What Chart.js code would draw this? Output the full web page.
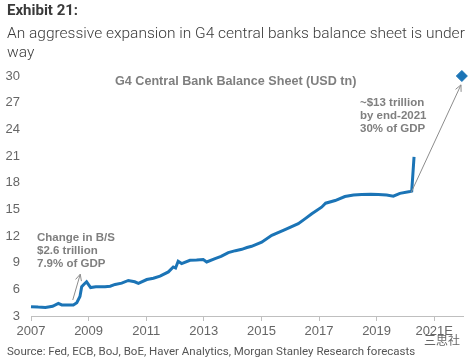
<!DOCTYPE html>
<html>
<head>
<meta charset="utf-8">
<script src="https://cdn.jsdelivr.net/npm/chart.js@4.4.1/dist/chart.umd.min.js"></script>
<style>
  body { margin: 0; background: #fff; }
  #wrap { position: relative; width: 472px; height: 359px; overflow: hidden; }
  #box { position: absolute; left: 0; top: 0; width: 472px; height: 359px; }
  .hdr { position: absolute; left: 7px; font-family: Roboto, sans-serif; color: #3a3a3a; white-space: nowrap; }
  #exhibit { top: 1px; font-size: 15px; font-weight: 700; }
  #sub { top: 24px; font-size: 15.5px; font-weight: 300; line-height: 19px; }
  #source { position: absolute; left: 7px; top: 344px; font-family: Roboto, sans-serif; font-size: 11.5px; color: #555; white-space: nowrap; }
  #mark { position: absolute; left: 424px; top: 331px; font-family: "Noto Sans CJK SC", sans-serif; font-size: 12px; color: #666; }
</style>
</head>
<body>
<div id="wrap">
  <div id="box"><canvas id="bsChart"></canvas></div>
  <div class="hdr" id="exhibit">Exhibit 21:</div>
  <div class="hdr" id="sub">An aggressive expansion in G4 central banks balance sheet is under<br>way</div>
  <div id="source">Source: Fed, ECB, BoJ, BoE, Haver Analytics, Morgan Stanley Research forecasts</div>
  <div id="mark">三思社</div>
</div>
<script>
// G4 balance sheet, USD tn
const years = [2007.0, 2007.25, 2007.5, 2007.75, 2007.95, 2008.07, 2008.3, 2008.47, 2008.59, 2008.7,
  2008.76, 2008.85, 2008.93, 2009.07, 2009.25, 2009.57, 2009.75, 2009.92, 2010.15, 2010.38,
  2010.6, 2010.73, 2011.02, 2011.25, 2011.48, 2011.77, 2011.94, 2012.02, 2012.11, 2012.23,
  2012.52, 2012.75, 2012.98, 2013.1, 2013.39, 2013.6, 2013.85, 2014.1, 2014.32, 2014.5,
  2014.66, 2015.01, 2015.36, 2015.8, 2016.28, 2016.5, 2016.75, 2017.09, 2017.23, 2017.56,
  2017.9, 2018.2, 2018.48, 2018.8, 2019.06, 2019.35, 2019.58, 2019.81, 2020.16, 2020.22, 2020.3];
const values = [4.05, 4.0, 3.97, 4.1, 4.42, 4.25, 4.25, 4.25, 4.5, 5.2,
  6.3, 6.6, 6.85, 6.2, 6.3, 6.3, 6.35, 6.55, 6.7, 7.0,
  6.85, 6.66, 7.1, 7.25, 7.48, 7.96, 8.52, 8.4, 9.16, 8.9,
  9.27, 9.3, 9.35, 9.08, 9.46, 9.7, 10.13, 10.35, 10.5, 10.7,
  10.84, 11.3, 12.07, 12.7, 13.38, 13.9, 14.5, 15.24, 15.69, 15.99,
  16.44, 16.6, 16.66, 16.7, 16.66, 16.6, 16.48, 16.8, 17.0, 17.05, 20.9];

// end-2021 forecast
const forecastYear = [2021.96];
const forecastValue = [30];

const xTicks = [2007, 2009, 2011, 2013, 2015, 2017, 2019, 2021];
const xTickLabels = ["2007", "2009", "2011", "2013", "2015", "2017", "2019", "2021E"];

const blue = "#1b74b6";
const grey = "#7f7f7f";

Chart.defaults.font.family = "'Liberation Sans', Arial, sans-serif";

function arrow(ctx, x1, y1, x2, y2) {
  const a = Math.atan2(y2 - y1, x2 - x1);
  const h = 7;
  ctx.beginPath();
  ctx.moveTo(x1, y1);
  ctx.lineTo(x2, y2);
  ctx.moveTo(x2 - h * Math.cos(a - 0.45), y2 - h * Math.sin(a - 0.45));
  ctx.lineTo(x2, y2);
  ctx.lineTo(x2 - h * Math.cos(a + 0.45), y2 - h * Math.sin(a + 0.45));
  ctx.stroke();
}

const notes = {
  id: "notes",
  afterDatasetsDraw(chart) {
    const { ctx, scales: { x, y } } = chart;
    ctx.save();
    ctx.strokeStyle = "#8c8c8c";
    ctx.lineWidth = 1;
    arrow(ctx, x.getPixelForValue(2008.45), y.getPixelForValue(4.8), x.getPixelForValue(2008.71), y.getPixelForValue(7.7));
    arrow(ctx, x.getPixelForValue(2020.2), y.getPixelForValue(16.9), x.getPixelForValue(2021.93), y.getPixelForValue(29.0));

    ctx.fillStyle = grey;
    ctx.textBaseline = "middle";
    ctx.textAlign = "left";
    ctx.font = "bold 12.6px 'Liberation Sans', Arial, sans-serif";
    ctx.fillText("G4 Central Bank Balance Sheet (USD tn)", 115, 82);

    ctx.font = "bold 11.5px 'Liberation Sans', Arial, sans-serif";
    ["~$13 trillion", "by end-2021", "30% of GDP"].forEach((t, i) => ctx.fillText(t, 360, 103 + i * 12.7));
    ["Change in B/S", "$2.6 trillion", "7.9% of GDP"].forEach((t, i) => ctx.fillText(t, 37, 238 + i * 12.8));
    ctx.restore();
  }
};

new Chart(document.getElementById("bsChart").getContext("2d"), {
  type: "line",
  data: {
    datasets: [
      {
        data: years.map((v, i) => ({ x: v, y: values[i] })),
        borderColor: blue,
        borderWidth: 3,
        pointRadius: 0,
        tension: 0,
        clip: false,
      },
      {
        data: forecastYear.map((v, i) => ({ x: v, y: forecastValue[i] })),
        showLine: false,
        pointStyle: "rectRot",
        pointRadius: 5.5,
        backgroundColor: blue,
        borderColor: blue,
        clip: false,
      },
    ],
  },
  options: {
    responsive: true,
    maintainAspectRatio: false,
    animation: false,
    layout: { padding: { top: 76, right: 9, left: 0, bottom: 0 } },
    plugins: { legend: { display: false }, tooltip: { enabled: false } },
    scales: {
      x: {
        type: "linear",
        min: 2007,
        max: 2022,
        afterBuildTicks: (s) => { s.ticks = xTicks.map((v) => ({ value: v })); },
        afterFit: (s) => { s.height = 43; },
        grid: { drawOnChartArea: false, tickLength: 5, color: "#bfbfbf" },
        border: { color: "#bfbfbf" },
        ticks: {
          padding: 3,
          color: "#666",
          font: { size: 13 },
          maxRotation: 0,
          autoSkip: false,
          callback: (v) => xTickLabels[xTicks.indexOf(v)] ?? "",
        },
      },
      y: {
        min: 3,
        max: 30,
        afterFit: (s) => { s.width = 31; },
        grid: { display: false, drawTicks: false },
        border: { display: false },
        ticks: { stepSize: 3, padding: 11, color: "#666", font: { size: 13 } },
      },
    },
  },
  plugins: [notes],
});
</script>
</body>
</html>
